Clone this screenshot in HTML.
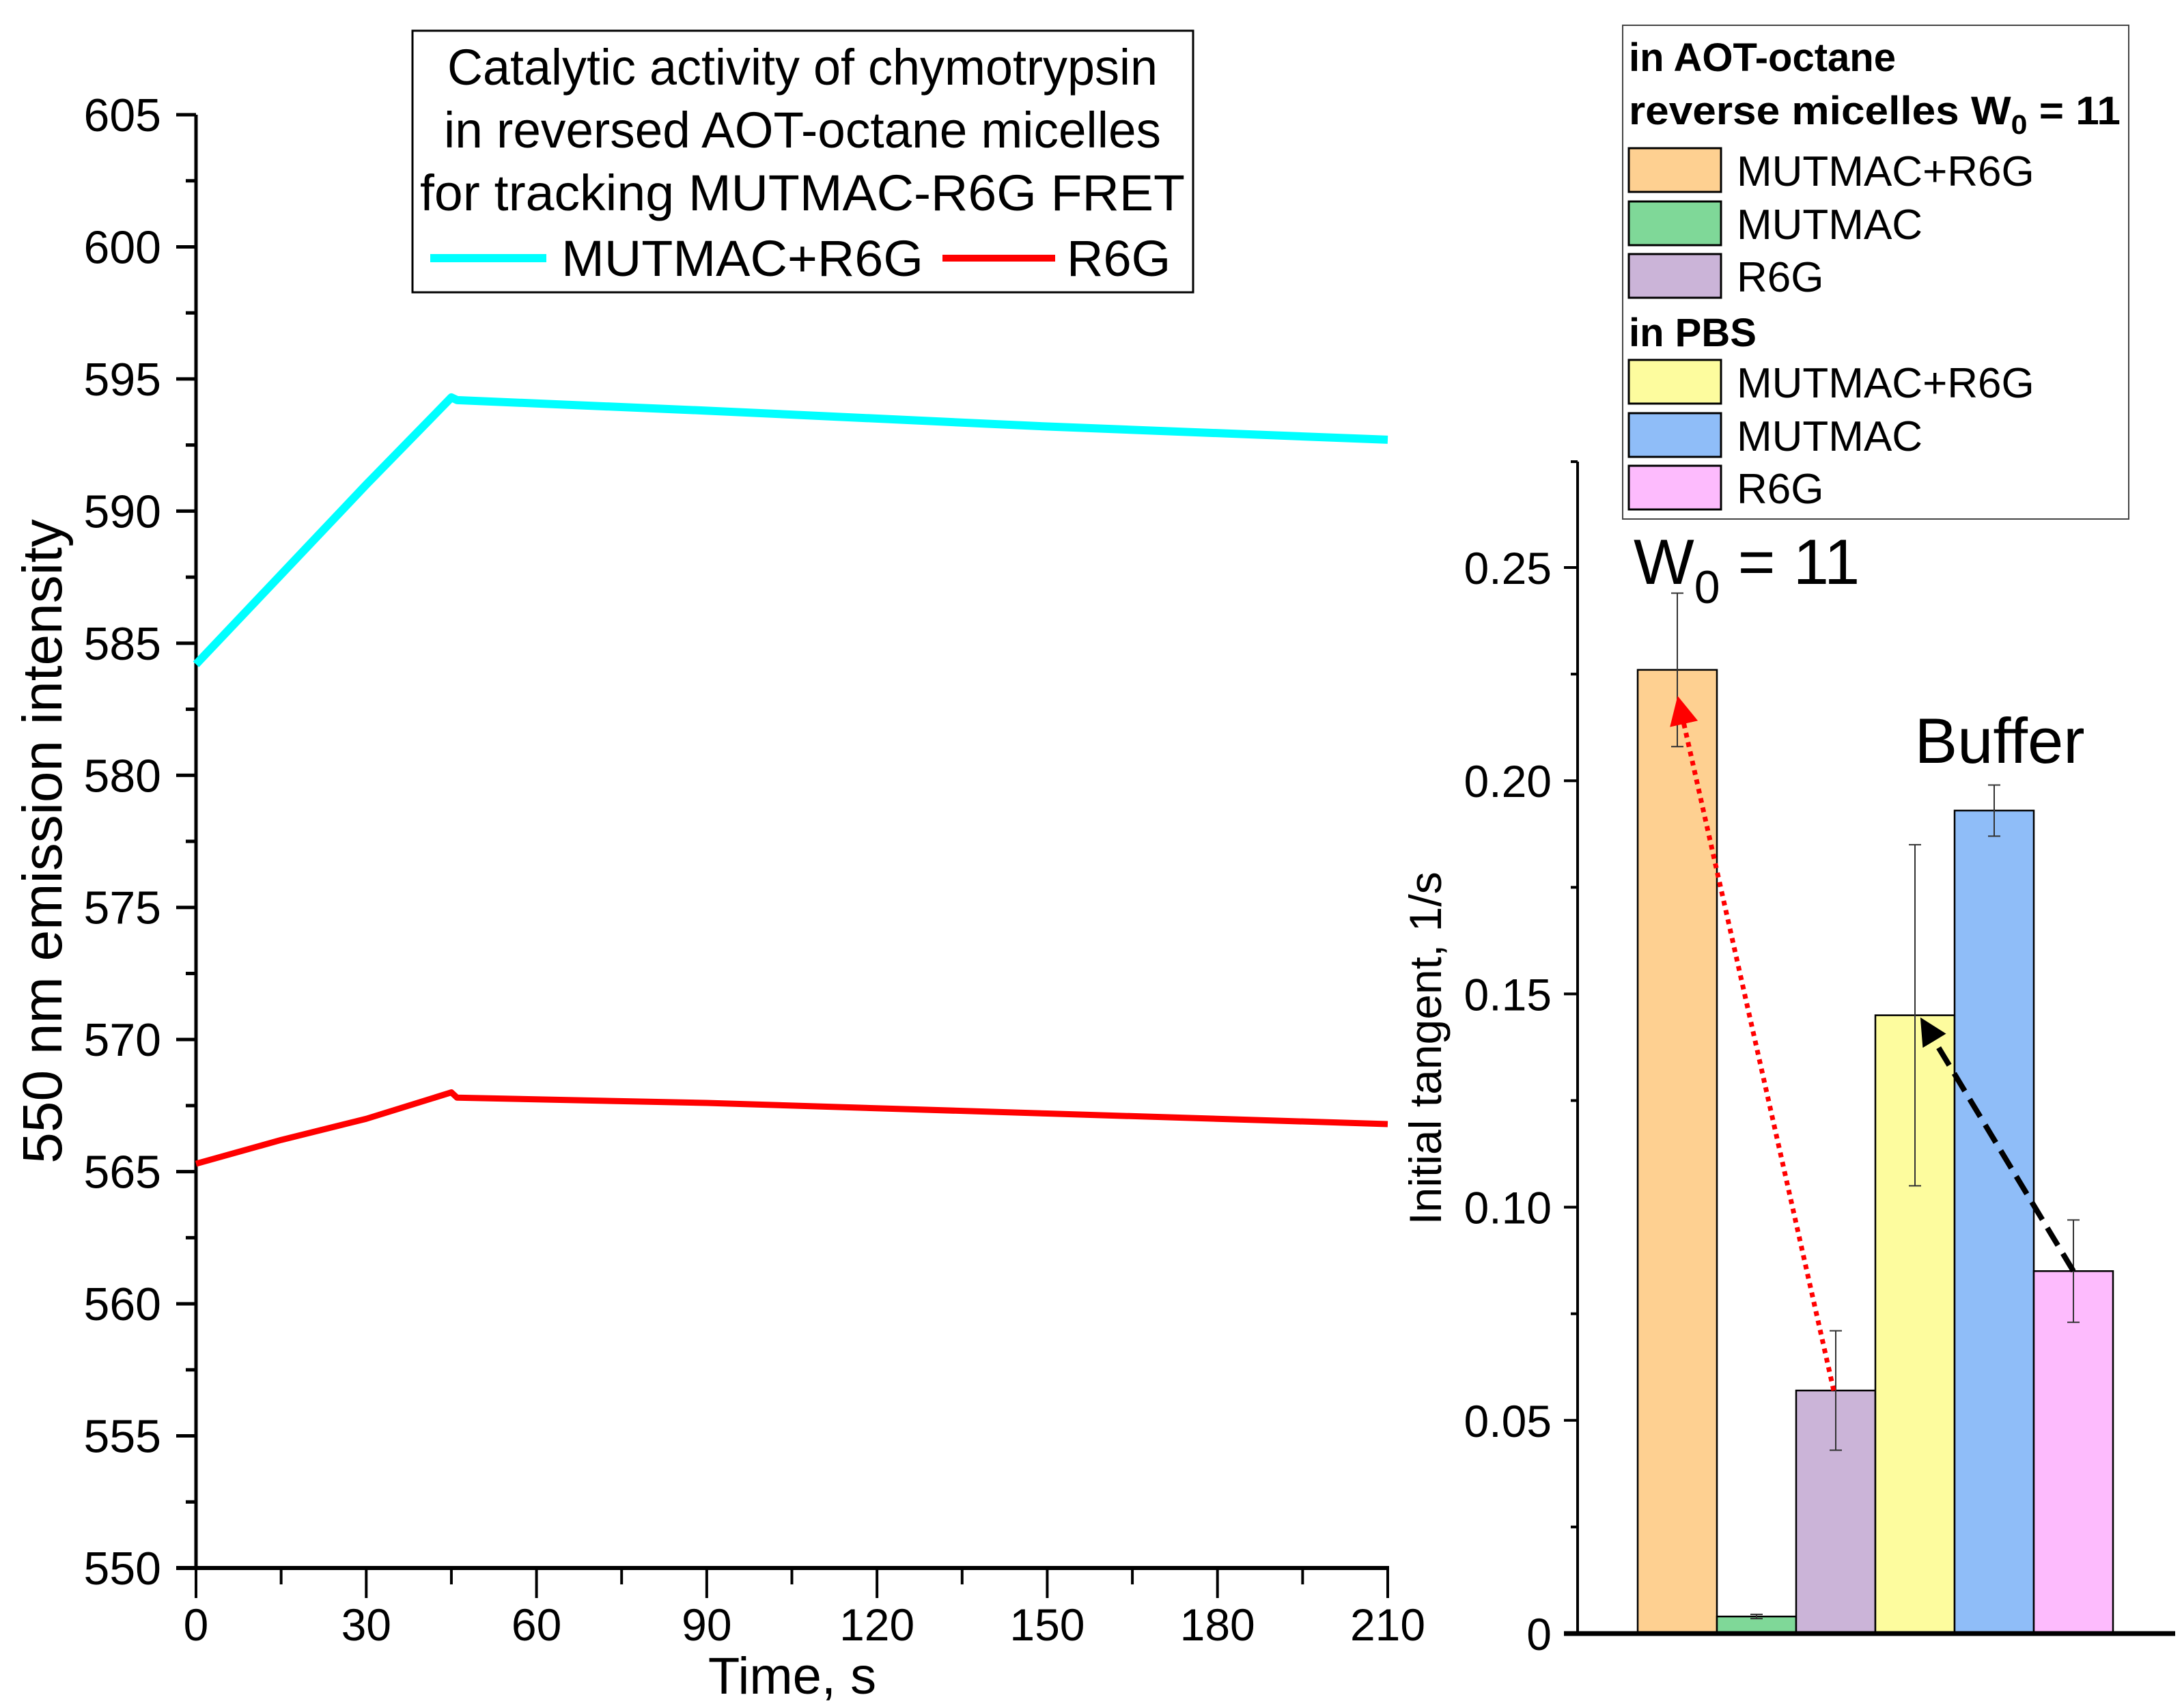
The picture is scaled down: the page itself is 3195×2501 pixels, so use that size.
<!DOCTYPE html>
<html><head><meta charset="utf-8"><style>
html,body{margin:0;padding:0;background:#fff}
svg{display:block;font-family:"Liberation Sans",sans-serif}
</style></head><body>
<svg id="chart" width="3195" height="2501" viewBox="0 0 3195 2501" xmlns="http://www.w3.org/2000/svg">
<defs>
<marker id="ahR" markerWidth="6" markerHeight="6" refX="5" refY="3" orient="auto" markerUnits="strokeWidth"><path d="M0,0 L6,3 L0,6 z" fill="#f00"/></marker>
<marker id="ahK" markerWidth="5" markerHeight="5" refX="4" refY="2.5" orient="auto" markerUnits="strokeWidth"><path d="M0,0 L5,2.5 L0,5 z" fill="#000"/></marker>
</defs>
<g id="left"></g>
<g id="right"></g>
</svg>
<script>
// ---- line chart data ----
const times = [0, 15, 30, 45, 46, 90, 150, 210];
const mixSeries = [584.2, 587.6, 591.0, 594.3, 594.2, 593.8, 593.2, 592.7];
const r6gSeries = [565.3, 566.2, 567.0, 568.0, 567.8, 567.6, 567.2, 566.8];
const xTicks = [0, 30, 60, 90, 120, 150, 180, 210];
const yTicks = [550, 555, 560, 565, 570, 575, 580, 585, 590, 595, 600, 605];
// ---- bar chart data ----
const barNames = ["aot-mutmac-r6g", "aot-mutmac", "aot-r6g", "pbs-mutmac-r6g", "pbs-mutmac", "pbs-r6g"];
const barValues = [0.226, 0.004, 0.057, 0.145, 0.193, 0.085];
const barErrors = [0.018, 0.0005, 0.014, 0.040, 0.006, 0.012];
const barColors = ["#fed091", "#7fd898", "#cbb4d8", "#fdfc9e", "#8fbdf8", "#fdbbfd"];
const bTicks = [0, 0.05, 0.10, 0.15, 0.20, 0.25];
const bTickLabels = ["0", "0.05", "0.10", "0.15", "0.20", "0.25"];

const NS = "http://www.w3.org/2000/svg";
function mk(parent, tag, attrs, text) {
  const e = document.createElementNS(NS, tag);
  for (const k in attrs) e.setAttribute(k, attrs[k]);
  if (text !== undefined) e.textContent = text;
  parent.appendChild(e);
  return e;
}
// ---- left chart ----
const L = document.getElementById("left");
const lx = t => 287 + (t - 0) / 210 * (2032 - 287);
const ly = v => 2296 - (v - 550) / 55 * (2296 - 168);
let e;
e = mk(L, "line", {x1: 287, y1: 168, x2: 287, y2: 2299, stroke: "#000", "stroke-width": 5});


e = mk(L, "line", {x1: 258, y1: 2296, x2: 2034, y2: 2296, stroke: "#000", "stroke-width": 6});


yTicks.forEach((v, i) => {
  mk(L, "line", {x1: 258, y1: ly(v), x2: 287, y2: ly(v), stroke: "#000", "stroke-width": 5});
  if (i < yTicks.length - 1) mk(L, "line", {x1: 272, y1: ly(v + 2.5), x2: 287, y2: ly(v + 2.5), stroke: "#000", "stroke-width": 5});
  e = mk(L, "text", {x: 236, y: ly(v) + 24, "font-size": 68, "text-anchor": "end"}, v);
  
  
});
xTicks.forEach((t, i) => {
  mk(L, "line", {x1: lx(t), y1: 2296, x2: lx(t), y2: 2340, stroke: "#000", "stroke-width": 4});
  if (i < xTicks.length - 1) mk(L, "line", {x1: lx(t + 15), y1: 2296, x2: lx(t + 15), y2: 2320, stroke: "#000", "stroke-width": 4});
  e = mk(L, "text", {x: lx(t), y: 2402, "font-size": 66, "text-anchor": "middle"}, t);
  
  
});
e = mk(L, "text", {x: 1160, y: 2480, "font-size": 76, "text-anchor": "middle"}, "Time, s");


e = mk(L, "text", {x: 0, y: 0, "font-size": 82, "text-anchor": "middle", transform: "translate(90,1232) rotate(-90)"}, "550 nm emission intensity");


function pl(vals) { return vals.map((v, i) => lx(times[i]) + "," + ly(v)).join(" "); }
e = mk(L, "polyline", {points: pl(mixSeries), fill: "none", stroke: "#00ffff", "stroke-width": 12, "stroke-linejoin": "round"});


e = mk(L, "polyline", {points: pl(r6gSeries), fill: "none", stroke: "#ff0000", "stroke-width": 9, "stroke-linejoin": "round"});


// legend
const lg = mk(L, "g", {});


mk(lg, "rect", {x: 604, y: 45, width: 1143, height: 383, fill: "#fff", stroke: "#000", "stroke-width": 3});
["Catalytic activity of chymotrypsin", "in reversed AOT-octane micelles", "for tracking MUTMAC-R6G FRET"].forEach((s, i) => {
  e = mk(lg, "text", {x: 1175, y: 124 + i * 92, "font-size": 74, "text-anchor": "middle", textLength: [1040, 1050, 1120][i], lengthAdjust: "spacingAndGlyphs"}, s);
  
  
});
mk(lg, "line", {x1: 630, y1: 378, x2: 800, y2: 378, stroke: "#00ffff", "stroke-width": 12});
e = mk(lg, "text", {x: 822, y: 404, "font-size": 74, textLength: 530, lengthAdjust: "spacingAndGlyphs"}, "MUTMAC+R6G");


mk(lg, "line", {x1: 1380, y1: 378, x2: 1545, y2: 378, stroke: "#ff0000", "stroke-width": 10});
e = mk(lg, "text", {x: 1562, y: 404, "font-size": 74}, "R6G");



// ---- right chart ----
const R = document.getElementById("right");
const by = v => 2392 - v / 0.25 * (2392 - 831);
const bx0 = 2398, bw = 116;
e = mk(R, "line", {x1: 2310, y1: 676, x2: 2310, y2: 2394, stroke: "#000", "stroke-width": 4});


mk(R, "line", {x1: 2300, y1: 676, x2: 2310, y2: 676, stroke: "#000", "stroke-width": 4});
barValues.forEach((v, i) => {
  const x = bx0 + i * bw;
  e = mk(R, "rect", {x: x, y: by(v), width: bw, height: by(0) - by(v), fill: barColors[i], stroke: "#000", "stroke-width": 2.5});
  
  
  const cx = x + bw / 2, t = by(v + barErrors[i]), b = by(v - barErrors[i]);
  e = mk(R, "path", {d: `M${cx},${t} V${b} M${cx - 9},${t} H${cx + 9} M${cx - 9},${b} H${cx + 9}`, stroke: "#333", "stroke-width": 2, fill: "none"});
  
  
});
e = mk(R, "line", {x1: 2290, y1: 2392, x2: 3185, y2: 2392, stroke: "#000", "stroke-width": 7});


bTicks.forEach((v, i) => {
  mk(R, "line", {x1: 2290, y1: by(v), x2: 2310, y2: by(v), stroke: "#000", "stroke-width": 4});
  if (i < bTicks.length - 1) mk(R, "line", {x1: 2300, y1: by(v + 0.025), x2: 2310, y2: by(v + 0.025), stroke: "#000", "stroke-width": 4});
  e = mk(R, "text", {x: 2272, y: by(v) + 24, "font-size": 66, "text-anchor": "end"}, bTickLabels[i]);
  
  
});
e = mk(R, "text", {x: 0, y: 0, "font-size": 66, "text-anchor": "middle", transform: "translate(2110,1535) rotate(-90)"}, "Initial tangent, 1/s");


// arrows
const mid = i => bx0 + i * bw + bw / 2;
e = mk(R, "line", {x1: mid(2) - 3, y1: by(barValues[2]), x2: mid(0) + 2, y2: by(barValues[0]) + 45, stroke: "#f00", "stroke-width": 7, "stroke-dasharray": "7 7", "marker-end": "url(#ahR)"});


e = mk(R, "line", {x1: mid(5), y1: by(barValues[5]), x2: mid(3) + 12, y2: by(barValues[3]) + 10, stroke: "#000", "stroke-width": 8, "stroke-dasharray": "30 14", "marker-end": "url(#ahK)"});


// annotations
e = mk(R, "text", {x: 2392, y: 855, "font-size": 94}, "");
e.innerHTML = 'W<tspan font-size="68" dy="28">0</tspan><tspan dy="-28"> = 11</tspan>';


e = mk(R, "text", {x: 2928, y: 1117, "font-size": 94, "text-anchor": "middle"}, "Buffer");


// legend
const rg = mk(R, "g", {});


mk(rg, "rect", {x: 2376, y: 37, width: 741, height: 723, fill: "#fff", stroke: "#444", "stroke-width": 2});
e = mk(rg, "text", {x: 2385, y: 104, "font-size": 58, "font-weight": "bold"}, "in AOT-octane");


e = mk(rg, "text", {x: 2385, y: 182, "font-size": 58, "font-weight": "bold", textLength: 720, lengthAdjust: "spacingAndGlyphs"}, "");
e.innerHTML = 'reverse micelles W<tspan font-size="40" dy="14">0</tspan><tspan dy="-14"> = 11</tspan>';


e = mk(rg, "text", {x: 2385, y: 507, "font-size": 58, "font-weight": "bold"}, "in PBS");


const legLabels = ["MUTMAC+R6G", "MUTMAC", "R6G", "MUTMAC+R6G", "MUTMAC", "R6G"];
const legY = [217, 295, 372, 527, 605, 682];
legLabels.forEach((s, i) => {
  mk(rg, "rect", {x: 2385, y: legY[i], width: 135, height: 64, fill: barColors[i], stroke: "#000", "stroke-width": 3});
  e = mk(rg, "text", {x: 2543, y: legY[i] + 55, "font-size": 62}, s);
  
  
});
</script>
</body></html>
